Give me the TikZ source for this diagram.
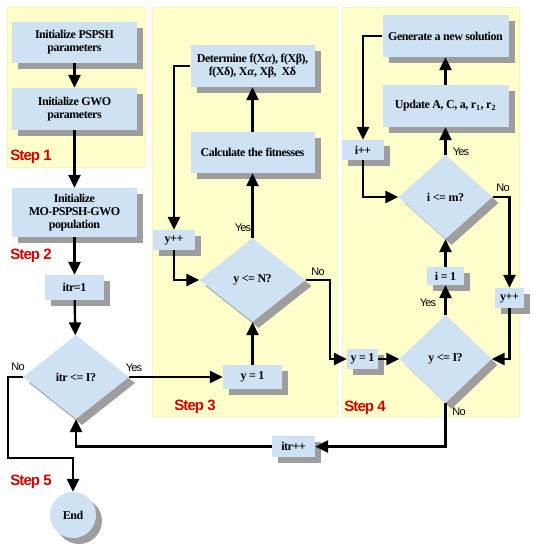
\documentclass[tikz,border=0pt]{standalone}
\usepackage{fontspec}
\setmainfont{Liberation Serif}[LetterSpace=-4]
\newfontfamily\labsans{Liberation Sans}[LetterSpace=-7]
\newfontfamily\stepfont{Liberation Sans}[LetterSpace=-6]
\usetikzlibrary{shapes.geometric,arrows.meta,shadows}
\definecolor{panel}{RGB}{255,255,204}
\definecolor{paneledge}{RGB}{245,245,190}
\definecolor{boxblue}{RGB}{207,226,243}
\definecolor{shade}{RGB}{158,158,158}
\definecolor{stepred}{RGB}{204,0,0}
\begin{document}
\begin{tikzpicture}[x=1pt,y=-1pt,
  shd/.style={general shadow={fill=shade, shadow xshift=6pt, shadow yshift=-6pt}},
  box/.style={rectangle, fill=boxblue, inner sep=0pt, align=center, shd,
    font=\bfseries\fontsize{12}{13}\selectfont},
  dec/.style={diamond, fill=boxblue, inner sep=0pt, shd,
    font=\bfseries\fontsize{12}{13}\selectfont},
  endc/.style={circle, fill=boxblue, inner sep=0pt, minimum size=46pt, shd,
    font=\bfseries\fontsize{12}{13}\selectfont},
  line/.style={line width=2.4pt, draw=black},
  arr/.style={line, -{Triangle[length=13pt,width=12pt]}},
  lab/.style={font=\labsans\fontsize{11}{12}\selectfont, inner sep=0pt},
  steplab/.style={font=\stepfont\bfseries\fontsize{15}{16}\selectfont, text=stepred, inner sep=0pt}
]
\useasboundingbox (0,0) rectangle (537,550);
% panels
\filldraw[fill=panel, draw=paneledge] (7,7) rectangle (145,167);
\filldraw[fill=panel, draw=paneledge] (152,7) rectangle (337,416);
\filldraw[fill=panel, draw=paneledge] (342,7) rectangle (519,416);

% left column
\node[box, minimum width=125pt, minimum height=41pt] (p1) at (74.5,42.5) {Initialize PSPSH\\parameters};
\node[box, minimum width=125pt, minimum height=42pt] (p2) at (74.5,109) {Initialize GWO\\parameters};
\node[box, minimum width=125pt, minimum height=49pt] (p3) at (74.5,212.5) {Initialize\\MO-PSPSH-GWO\\population};
\node[box, minimum width=59pt, minimum height=25pt] (itr1) at (74.5,287.5) {itr=1};
\node[dec, minimum width=106pt, minimum height=84pt] (d1) at (76,377) {itr <= I?};
\node[endc] (end) at (73,515) {End};

% step 3
\node[box, minimum width=59pt, minimum height=24pt] (y1a) at (252.5,377) {y = 1};
\node[dec, minimum width=106pt, minimum height=84pt] (d2) at (252.5,280) {y <= N?};
\node[box, minimum width=42pt, minimum height=20pt] (ypa) at (174,240) {y++};
\node[box, minimum width=124pt, minimum height=41pt] (calc) at (252.5,152.5) {Calculate the fitnesses};
\node[box, minimum width=124pt, minimum height=42pt] (det) at (252.5,66) {Determine f(X\textit{α}), f(Xβ),\\f(Xδ), X\textit{α}, Xβ,\ \ Xδ};

% step 4
\node[box, minimum width=126pt, minimum height=42pt] (gen) at (445.5,36) {Generate a new solution};
\node[box, minimum width=126pt, minimum height=42pt] (upd) at (445.5,106) {Update A, C, a, r\textsubscript{1}, r\textsubscript{2}};
\node[box, minimum width=42pt, minimum height=20pt] (ipp) at (363,150) {i++};
\node[dec, minimum width=94pt, minimum height=84pt] (d3) at (445.5,197) {i <= m?};
\node[box, minimum width=37pt, minimum height=18pt] (i1) at (445.5,276) {i = 1};
\node[box, minimum width=29pt, minimum height=20pt] (ypb) at (509.5,298) {y++};
\node[dec, minimum width=92pt, minimum height=88pt] (d4) at (445.5,359) {y <= I?};
\node[box, minimum width=31pt, minimum height=20pt] (y1b) at (362.5,359) {y = 1};
\node[box, minimum width=43pt, minimum height=21pt] (itrpp) at (293.5,446.5) {itr++};

\coordinate (c2) at (8,458);

% connectors
\draw[arr] (p1) -- (p2);
\draw[arr] (p2) -- (p3);
\draw[arr] (p3) -- (itr1);
\draw[arr] (itr1) -- (d1);
\draw[arr] (d1.east) -- (y1a.west);
\draw[arr] (d1.west) -| (c2) -| (end.north);
\draw[arr] (y1a.north) -- (d2.south);
\draw[arr] (d2.north) -- (calc.south);
\draw[arr] (calc.north) -- (det.south);
\draw[arr] (det.west) -| (ypa.north);
\draw[arr] (ypa.south) |- (d2.west);
\draw[arr] (d2.east) -- ++(24,0) |- (y1b.west);
\draw[arr] (y1b.east) -- (d4.west);
\draw[arr] (d4.north) -- (i1.south);
\draw[arr] (i1.north) -- (d3.south);
\draw[arr] (d3.north) -- (upd.south);
\draw[arr] (upd.north) -- (gen.south);
\draw[arr] (gen.west) -| (ipp.north);
\draw[arr] (ipp.south) |- (d3.west);
\draw[arr] (d3.east) -| (ypb.north);
\draw[arr] (ypb.south) |- (d4.east);
\draw[arr] (d4.south) |- (itrpp.east);
\draw[arr] (itrpp.west) -| (d1.south);

% labels
\node[lab] (l1) at (134,368) {Yes};
\node[lab] (l2) at (18,367) {No};
\node[lab] (l3) at (243,228) {Yes};
\node[lab] (l4) at (318,272) {No};
\node[lab] (l5) at (503,188) {No};
\node[lab] (l6) at (461,152) {Yes};
\node[lab] (l7) at (428,303) {Yes};
\node[lab] (l8) at (459,412) {No};

\node[steplab] (s1) at (31,157) {Step 1};
\node[steplab] (s2) at (31,256) {Step 2};
\node[steplab] (s3) at (195,407) {Step 3};
\node[steplab] (s4) at (365,408) {Step 4};
\node[steplab] (s5) at (31,482) {Step 5};
\end{tikzpicture}
\end{document}
